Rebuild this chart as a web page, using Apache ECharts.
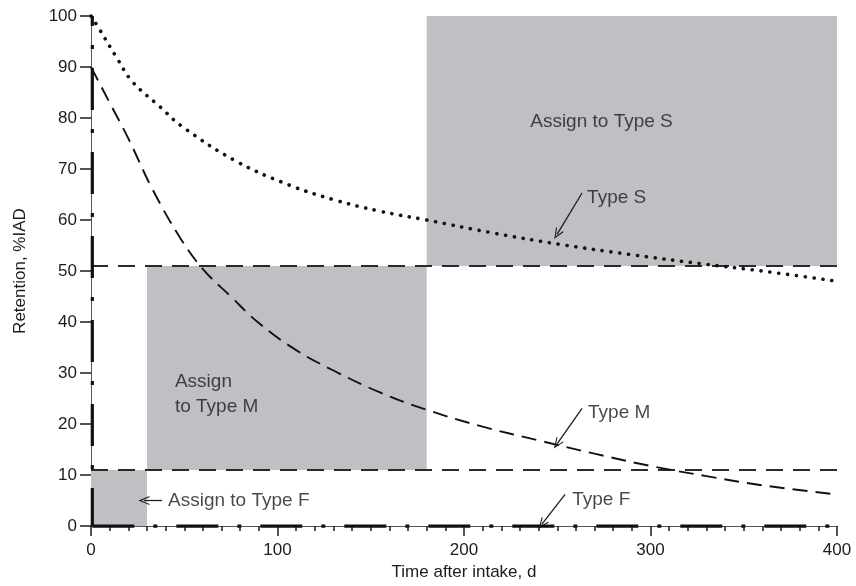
<!DOCTYPE html>
<html>
<head>
<meta charset="utf-8">
<script src="https://cdn.jsdelivr.net/npm/echarts@6/dist/echarts.min.js"></script>
<style>html,body{margin:0;padding:0;background:#fff}#c{width:856px;height:586px}</style>
</head>
<body>
<div id="c"></div>
<script>
// ---- data ----
const sDays   = [0, 4, 14, 22, 37, 49, 78, 106, 130, 154, 180, 215, 252, 290, 328, 360, 400];
const sValues = [100, 97.7, 91.7, 87.2, 82.2, 78.3, 71.5, 66.9, 64, 61.8, 60, 57.5, 55.2, 53.2, 51.4, 50, 48];
const mDays   = [0, 5, 10, 20, 33, 48, 60, 75, 90, 110, 130, 155, 180, 210, 240, 270, 300, 330, 360, 400];
const mValues = [90, 86.5, 83, 76, 66, 56.4, 50.4, 45, 39.8, 34.5, 30.5, 26.2, 22.8, 19.5, 16.8, 14.2, 11.8, 9.8, 8, 6.2];
const fVertDays = [0.7, 0.7];
const fVertValues = [100, 0];
const fHorzDays = [0.7, 400];
const fHorzValues = [0, 0];
const upperThreshold = 51;
const lowerThreshold = 11;
const xRange = [0, 400];
const yRange = [0, 100];
// gray assignment regions: [x0, x1, y0, y1]
const regionF = [0, 30, 0, 11];
const regionM = [30, 180, 11, 51];
const regionS = [180, 400, 51, 100];
// annotation texts and anchor points (data units)
const noteTexts  = ['Assign to Type S', 'Type S', 'Assign\nto Type M', 'Type M', 'Type F', 'Assign to Type F'];
const noteX      = [235.5, 266, 45, 266.5, 258, 41.3];
const noteY      = [79.3, 64.3, 25.9, 22.3, 5.2, 5.0];
// arrows: [fromX, fromY, toX, toY]
const arrowS = [263.3, 65.3, 249.9, 57.2];
const arrowM = [263.3, 23.1, 249.9, 16.1];
const arrowF = [254.2, 6.2, 241.8, 0.4];
const arrowAssignF = [38.1, 5.0, 28.4, 5.0];

const zip = (a, b) => a.map((v, i) => [v, b[i]]);
const FONT = "'Liberation Sans', Arial, Helvetica, sans-serif";
const INK = '#1c1c1c';
const GRAY = '#bfc0c3';
const chevron = 'path://M0,10 L5,0 L10,10 L8.7,10 L5,2.6 L1.3,10 Z';

const areaItem = r => [{ coord: [r[0], r[3]] }, { coord: [r[1], r[2]] }];
const arrowItem = a => [{ coord: [a[0], a[1]] }, { coord: [a[2], a[3]] }];

const chart = echarts.init(document.getElementById('c'), null, { renderer: 'canvas' });
chart.setOption({
  animation: false,
  backgroundColor: '#fff',
  textStyle: { fontFamily: FONT },
  grid: { left: 91, right: 19, top: 16, bottom: 54 },
  xAxis: {
    type: 'value', min: xRange[0], max: xRange[1], interval: 100,
    name: 'Time after intake, d', nameLocation: 'middle', nameGap: 36,
    nameTextStyle: { fontSize: 17, color: INK, fontFamily: FONT },
    axisLine: { show: true, lineStyle: { color: '#555', width: 1 } },
    axisTick: { show: true, length: 10, lineStyle: { color: INK, width: 1.5 } },
    minorTick: { show: true, splitNumber: 10, length: 5, lineStyle: { color: INK, width: 1.5 } },
    axisLabel: { fontSize: 17, color: INK, margin: 16, fontFamily: FONT },
    splitLine: { show: false }
  },
  yAxis: {
    type: 'value', min: yRange[0], max: yRange[1], interval: 10,
    name: 'Retention, %IAD', nameLocation: 'middle', nameGap: 62,
    nameTextStyle: { fontSize: 17, color: INK, fontFamily: FONT },
    axisLine: { show: true, lineStyle: { color: '#555', width: 1 } },
    axisTick: { show: true, length: 11, lineStyle: { color: INK, width: 1.5 } },
    axisLabel: { fontSize: 17, color: INK, margin: 14, fontFamily: FONT },
    splitLine: { show: false }
  },
  series: [
    {
      name: 'upper', type: 'line', z: 3, showSymbol: false, silent: true,
      data: [[xRange[0], upperThreshold], [xRange[1], upperThreshold]],
      lineStyle: { color: '#2a2a2a', width: 2, type: [17, 10] },
      markArea: {
        silent: true, z: 1,
        itemStyle: { color: GRAY, opacity: 1 },
        data: [areaItem(regionF), areaItem(regionM), areaItem(regionS)]
      }
    },
    {
      name: 'lower', type: 'line', z: 3, showSymbol: false, silent: true,
      data: [[xRange[0], lowerThreshold], [xRange[1], lowerThreshold]],
      lineStyle: { color: '#2a2a2a', width: 2, type: [17, 10] }
    },
    {
      name: 'Type S', type: 'line', z: 4, showSymbol: false, smooth: 0.4,
      data: zip(sDays, sValues),
      lineStyle: { color: '#111', width: 3.6, type: [0.1, 8.8], cap: 'round' }
    },
    {
      name: 'Type M', type: 'line', z: 4, showSymbol: false, smooth: 0.4,
      data: zip(mDays, mValues),
      lineStyle: { color: '#111', width: 1.9, type: [15, 8] }
    },
    {
      name: 'Type F vertical', type: 'line', z: 5, showSymbol: false, clip: false,
      data: zip(fVertDays, fVertValues),
      lineStyle: { color: '#111', width: 3.2, type: [42, 19, 4, 19], dashOffset: 32 }
    },
    {
      name: 'Type F', type: 'line', z: 5, showSymbol: false, clip: false,
      data: zip(fHorzDays, fHorzValues),
      lineStyle: { color: '#111', width: 3.2, type: [42, 19, 4, 19], dashOffset: 0 }
    },
    {
      name: 'arrows', type: 'line', data: [], z: 6,
      markLine: {
        silent: true, animation: false,
        symbol: ['none', chevron], symbolSize: [9, 11],
        label: { show: false },
        lineStyle: { color: INK, width: 1.3, type: 'solid' },
        data: [arrowItem(arrowS), arrowItem(arrowM), arrowItem(arrowF), arrowItem(arrowAssignF)]
      }
    },
    {
      name: 'notes', type: 'scatter', z: 7, symbolSize: 0, silent: true,
      data: noteTexts.map((t, i) => ({ value: [noteX[i], noteY[i]], name: t })),
      label: {
        show: true, position: [0, 0], align: 'left', verticalAlign: 'middle',
        formatter: p => p.name, fontSize: 19, lineHeight: 25, color: INK, fontFamily: FONT
      }
    }
  ]
});
</script>
</body>
</html>
